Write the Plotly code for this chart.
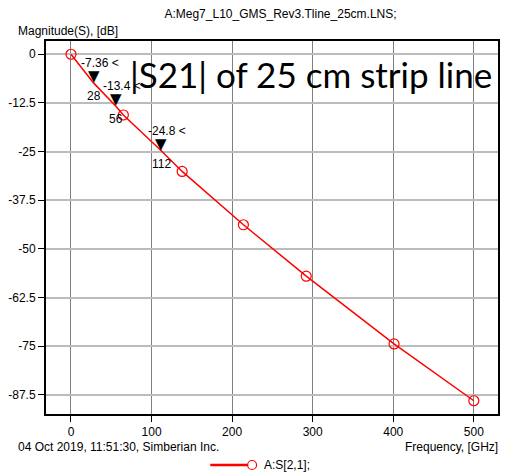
import plotly.graph_objects as go

# Data
freq_markers = [0, 65, 138, 214, 292, 401, 500]
mag_markers = [0, -15.6, -30.1, -43.8, -57.0, -74.4, -89.0]

freq_line = [0, 28, 56, 65, 112, 138, 214, 292, 401, 500]
mag_line = [0, -7.36, -13.4, -15.6, -24.8, -30.1, -43.8, -57.0, -74.4, -89.0]

mark_freq = [28, 56, 112]
mark_val = [-7.36, -13.4, -24.8]

x_ticks = [0, 100, 200, 300, 400, 500]
y_ticks = [0, -12.5, -25, -37.5, -50, -62.5, -75, -87.5]
y_tick_text = ["0", "-12.5", "-25", "-37.5", "-50", "-62.5", "-75", "-87.5"]

FONT = "Liberation Sans"
RED = "#ff0000"

W, H = 505, 473
ML, MR, MT, MB = 46, 5, 41, 59
PW = W - ML - MR
PH = H - MT - MB


def px_x(px):
    return (px - ML) / PW


def px_y(py):
    return (H - MB - py) / PH


fig = go.Figure()

fig.add_trace(go.Scatter(
    x=freq_line, y=mag_line, mode="lines",
    line=dict(color=RED, width=1.5), showlegend=False, hoverinfo="skip"))
fig.add_trace(go.Scatter(
    x=freq_markers, y=mag_markers, mode="markers",
    marker=dict(symbol="circle-open", size=10, color=RED, line=dict(width=1.2, color=RED)),
    showlegend=False))

annotations = []
for f, v in zip(mark_freq, mark_val):
    annotations.append(dict(x=f, y=v, xref="x", yref="y", text="▼", showarrow=False,
                            font=dict(size=15, color="black", family="DejaVu Sans"),
                            xanchor="center", yanchor="middle", yshift=7))
    annotations.append(dict(x=f, y=v, xref="x", yref="y", text=f"{v:g} <", showarrow=False,
                            font=dict(size=12, color="black", family=FONT),
                            xanchor="left", yanchor="middle", xshift=-15, yshift=20))
    annotations.append(dict(x=f, y=v, xref="x", yref="y", text=f"{f}", showarrow=False,
                            font=dict(size=12, color="black", family=FONT),
                            xanchor="center", yanchor="middle", yshift=-13))

annotations += [
    dict(x=px_x(496), y=px_y(74), xref="paper", yref="paper", text="|S21| of 25 cm strip line",
         showarrow=False, xanchor="right", yanchor="middle",
         font=dict(size=35, color="black", family="Lato")),
    dict(x=px_x(16), y=px_y(31), xref="paper", yref="paper", text="Magnitude(S), [dB]",
         showarrow=False, xanchor="left", yanchor="middle", font=dict(size=12, family=FONT)),
    dict(x=px_x(16), y=px_y(447), xref="paper", yref="paper",
         text="04 Oct 2019, 11:51:30, Simberian Inc.",
         showarrow=False, xanchor="left", yanchor="middle", font=dict(size=12, family=FONT)),
    dict(x=px_x(502), y=px_y(447), xref="paper", yref="paper", text="Frequency, [GHz]",
         showarrow=False, xanchor="right", yanchor="middle", font=dict(size=12, family=FONT)),
    # legend label
    dict(x=px_x(263), y=px_y(465), xref="paper", yref="paper", text="A:S[2,1];",
         showarrow=False, xanchor="left", yanchor="middle", font=dict(size=12, family=FONT)),
]

ly = px_y(465)
r = 4.5 / PH
rx = 4.5 / PW
shapes = [
    dict(type="line", xref="paper", yref="paper", x0=px_x(211), x1=px_x(249), y0=ly, y1=ly,
         line=dict(color=RED, width=2.5)),
    dict(type="circle", xref="paper", yref="paper", x0=px_x(253) - rx, x1=px_x(253) + rx,
         y0=ly - r, y1=ly + r, line=dict(color=RED, width=1.2)),
]

fig.update_layout(
    width=W, height=H,
    margin=dict(l=ML, r=MR, t=MT, b=MB),
    paper_bgcolor="white", plot_bgcolor="white",
    font=dict(family=FONT, size=12, color="black"),
    title=dict(text="A:Meg7_L10_GMS_Rev3.Tline_25cm.LNS;", x=262 / W,
               xref="paper", xanchor="center",
               y=1 - 14 / H, yanchor="middle", font=dict(size=12, family=FONT)),
    showlegend=False,
    annotations=annotations,
    shapes=shapes,
    xaxis=dict(range=[-31, 530], tickvals=x_ticks, ticks="outside", ticklen=6, tickcolor="black",
               showgrid=True, gridcolor="#808080", gridwidth=1, zeroline=False,
               showline=True, linecolor="black", linewidth=2, mirror=True,
               tickfont=dict(size=12, family=FONT)),
    yaxis=dict(range=[-92.4, 3.4], tickvals=y_ticks, ticktext=y_tick_text, ticks="outside", ticklen=6,
               tickcolor="black", showgrid=True, gridcolor="#bcbcbc", gridwidth=2, zeroline=False,
               showline=True, linecolor="black", linewidth=2, mirror=True,
               tickfont=dict(size=12, family=FONT)),
)

fig.write_html("out.html")
